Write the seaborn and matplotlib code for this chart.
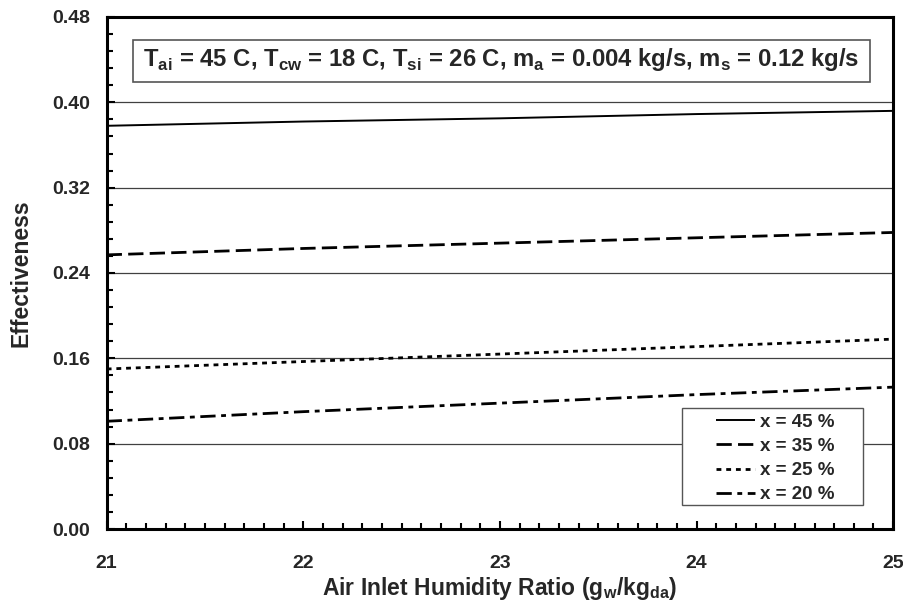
import matplotlib
matplotlib.use("Agg")
import matplotlib.pyplot as plt
import seaborn as sns
import pandas as pd
from matplotlib.ticker import MultipleLocator
from matplotlib.patches import Rectangle

humidity = [21, 22, 23, 24, 25]
eff_45 = [0.378, 0.382, 0.385, 0.389, 0.392]
eff_35 = [0.257, 0.263, 0.268, 0.273, 0.278]
eff_25 = [0.150, 0.157, 0.164, 0.171, 0.178]
eff_20 = [0.101, 0.110, 0.118, 0.126, 0.133]
labels = ["x = 45 %", "x = 35 %", "x = 25 %", "x = 20 %"]
yticks = [0.00, 0.08, 0.16, 0.24, 0.32, 0.40, 0.48]
xticks = [21, 22, 23, 24, 25]

sns.set_theme(style="white")
plt.rcParams['font.family'] = ['Liberation Sans', 'DejaVu Sans']
plt.rcParams['font.weight'] = 'bold'
plt.rcParams['lines.scale_dashes'] = False
plt.rcParams['lines.solid_capstyle'] = 'butt'
plt.rcParams['lines.dash_capstyle'] = 'butt'

fig = plt.figure(figsize=(9.04, 6.07), dpi=100)
ax = fig.add_axes([0.118, 0.1285, 0.870, 0.8435])

styles = ['-', (0, (11, 4.5)), (0, (3.5, 3.5)), (0, (11, 4, 3.5, 4))]
widths = [1.4, 2.0, 2.0, 2.0]
series = [eff_45, eff_35, eff_25, eff_20]
for lab, vals, ls, lw in zip(labels, series, styles, widths):
    df = pd.DataFrame({"x": humidity, "y": vals})
    sns.lineplot(data=df, x="x", y="y", ax=ax, color="black", linestyle=ls,
                 linewidth=lw, label=lab)

for yv in yticks[1:-1]:
    ax.axhline(yv, color="#404040", lw=0.9, zorder=0)

ax.set_xlim(21, 25)
ax.set_ylim(0, 0.48)
ax.set_xticks(xticks)
ax.set_yticks(yticks)
ax.set_xticklabels([str(v) for v in xticks])
ax.set_yticklabels([f"{v:.2f}" for v in yticks])
ax.xaxis.set_minor_locator(MultipleLocator(0.1))
ax.yaxis.set_minor_locator(MultipleLocator(0.016))
ax.tick_params(axis='both', which='both', direction='in', color='black',
               bottom=True, left=True, top=False, right=False)
ax.tick_params(axis='both', which='major', length=6, width=1.5, labelsize=14)
ax.tick_params(axis='x', which='major', pad=19)
ax.tick_params(axis='y', which='major', pad=12)
ax.tick_params(axis='both', which='minor', length=4, width=1.5)
for t in ax.get_xticklabels() + ax.get_yticklabels():
    t.set_fontweight('bold')
for s in ax.spines.values():
    s.set_color('black')
    s.set_linewidth(2.2)

ax.set_xlabel(r"Air Inlet Humidity Ratio (g$_{\mathregular{w}}$/kg$_{\mathregular{da}}$)",
              fontsize=16.5, fontweight='bold', labelpad=2)
ax.set_ylabel("Effectiveness", fontsize=16.5, fontweight='bold', labelpad=14)

ax.add_patch(Rectangle((0.0331, 0.873), 0.9377, 0.082, transform=ax.transAxes,
                       fc='white', ec='#555555', lw=1.2, zorder=3))
title = (r"T$_{\mathregular{ai}}$ = 45 C, T$_{\mathregular{cw}}$ = 18 C, "
         r"T$_{\mathregular{si}}$ = 26 C, m$_{\mathregular{a}}$ = 0.004 kg/s, "
         r"m$_{\mathregular{s}}$ = 0.12 kg/s")
ax.text(0.502, 0.904, title, transform=ax.transAxes, ha='center', va='baseline',
        fontsize=17.2, fontweight='bold', zorder=4)

# legend frame
ax.add_patch(Rectangle((0.7316, 0.0469), 0.2303, 0.1895, transform=ax.transAxes,
                       fc='white', ec='#555555', lw=1.0, zorder=4))
leg = ax.legend(loc='lower right', bbox_to_anchor=(0.925, 0.050), borderaxespad=0,
                frameon=False, prop={'weight': 'bold', 'size': 13.5},
                handlelength=2.1, handletextpad=0.25, labelspacing=0.38,
                borderpad=0)
leg.set_zorder(5)

fig.savefig("out.png", dpi=100, facecolor='white')
